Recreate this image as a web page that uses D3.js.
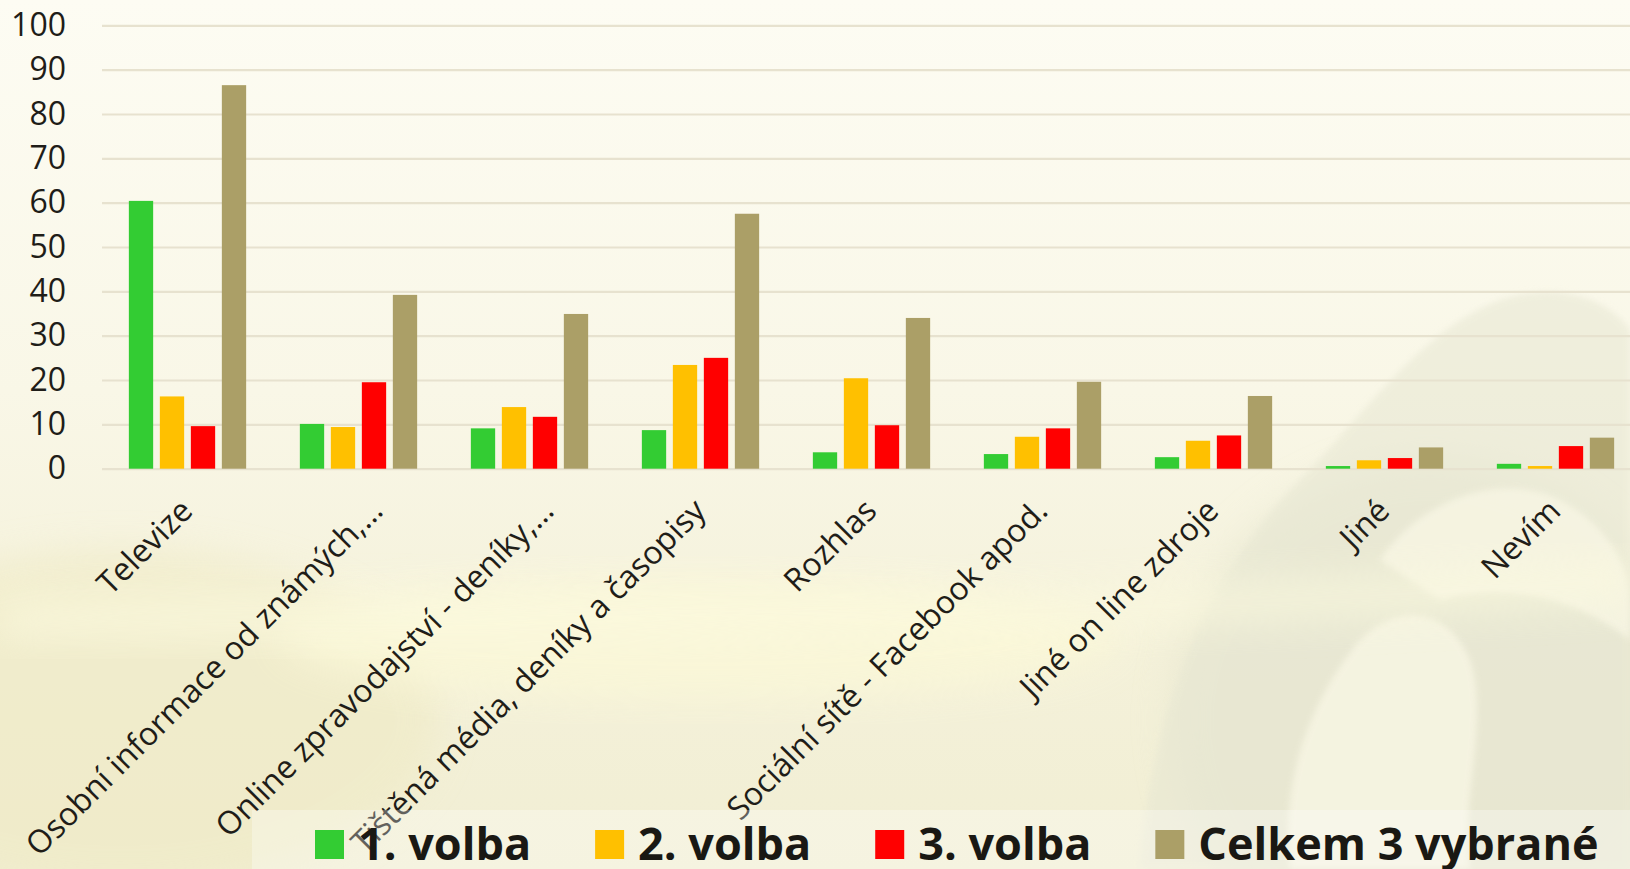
<!DOCTYPE html>
<html>
<head>
<meta charset="utf-8">
<script src="https://cdn.jsdelivr.net/npm/d3@7"></script>
<style>
  html, body { margin: 0; padding: 0; overflow: hidden; background: #fbf9ec; }
  svg { display: block; font-family: "Open Sans", "Noto Sans", sans-serif; }
</style>
</head>
<body>
<svg id="chart" width="1630" height="869"></svg>
<script>
// data
const categories = [
  "Televize",
  "Osobní informace od známých,…",
  "Online zpravodajství - deníky,…",
  "Tištěná média, deníky a časopisy",
  "Rozhlas",
  "Sociální sítě - Facebook apod.",
  "Jiné on line zdroje",
  "Jiné",
  "Nevím"
];
const seriesNames = ["1. volba", "2. volba", "3. volba", "Celkem 3 vybrané"];
const volba1 = [60.4, 10.1, 9.1, 8.7, 3.7, 3.3, 2.6, 0.6, 1.1];
const volba2 = [16.3, 9.4, 13.9, 23.4, 20.4, 7.2, 6.3, 1.9, 0.6];
const volba3 = [9.6, 19.5, 11.7, 25.0, 9.8, 9.1, 7.5, 2.4, 5.1];
const celkem = [86.5, 39.2, 34.9, 57.5, 34.0, 19.6, 16.4, 4.8, 7.0];
const yTicks = [0, 10, 20, 30, 40, 50, 60, 70, 80, 90, 100];

const colors = ["#33cc33", "#ffc000", "#ff0000", "#ab9f67"];
const W = 1630, H = 869;
const left = 102, bandW = 171;
const y0 = 468.7, y100 = 25.3;

const svg = d3.select("#chart");
const defs = svg.append("defs");

// ---- background (cream paper with faint emblem) ----
const bg = defs.append("linearGradient").attr("id", "bg").attr("x1", 0).attr("y1", 0).attr("x2", 0).attr("y2", 1);
bg.append("stop").attr("offset", "0%").attr("stop-color", "#fdfcf3");
bg.append("stop").attr("offset", "45%").attr("stop-color", "#f9f7e7");
bg.append("stop").attr("offset", "75%").attr("stop-color", "#f4f1da");
bg.append("stop").attr("offset", "100%").attr("stop-color", "#f1eed3");
defs.append("filter").attr("id", "blur").attr("x", "-20%").attr("y", "-20%").attr("width", "140%").attr("height", "140%")
  .append("feGaussianBlur").attr("stdDeviation", 18);
defs.append("filter").attr("id", "soft")
  .append("feGaussianBlur").attr("stdDeviation", 3);

svg.append("rect").attr("width", W).attr("height", H).attr("fill", "url(#bg)");
const deco = svg.append("g");
deco.append("ellipse").attr("cx", 120).attr("cy", 720).attr("rx", 320).attr("ry", 170)
  .attr("fill", "#efeac4").attr("opacity", 0.6).attr("filter", "url(#blur)");
deco.append("ellipse").attr("cx", 700).attr("cy", 640).attr("rx", 420).attr("ry", 60)
  .attr("fill", "#fbf8d8").attr("opacity", 0.8).attr("filter", "url(#blur)");
deco.append("ellipse").attr("cx", 1430).attr("cy", 720).attr("rx", 260).attr("ry", 260)
  .attr("fill", "#e3e3cd").attr("opacity", 0.5).attr("filter", "url(#blur)");
deco.append("path")
  .attr("d", "M1140,869 C1150,700 1220,560 1300,480 C1360,420 1420,330 1500,300 C1560,280 1610,300 1630,330 L1630,869 Z")
  .attr("fill", "#e7e7d3").attr("opacity", 0.55).attr("filter", "url(#soft)");
deco.append("path")
  .attr("d", "M1290,869 C1280,780 1310,700 1360,640 C1400,600 1450,610 1470,660 C1490,720 1460,800 1470,869 Z")
  .attr("fill", "#f8f6e4").attr("opacity", 0.8).attr("filter", "url(#soft)");
deco.append("path")
  .attr("d", "M1380,560 C1420,500 1500,470 1560,500 C1600,520 1630,560 1630,600 L1630,640 C1580,600 1510,580 1440,600 Z")
  .attr("fill", "#f8f6e4").attr("opacity", 0.8).attr("filter", "url(#soft)");
deco.append("path")
  .attr("d", "M0,600 C300,580 700,610 1100,590 C1300,580 1500,570 1630,560 L1630,600 C1400,615 1100,630 700,640 C400,645 200,640 0,640 Z")
  .attr("fill", "#fcfadf").attr("opacity", 0.6).attr("filter", "url(#blur)");

// ---- scales ----
const x = d3.scaleBand().domain(categories).range([left, left + categories.length * bandW]);
const xs = d3.scaleBand().domain(seriesNames).range([26.85, bandW - 26.85]).paddingInner(0.216);
const y = d3.scaleLinear().domain([0, 100]).range([y0, y100]);

// gridlines
svg.append("g")
  .attr("transform", `translate(${left},0)`)
  .call(d3.axisLeft(y).tickValues(yTicks).tickSize(-(W - left)).tickFormat(""))
  .call(g => g.select(".domain").remove())
  .call(g => g.selectAll("line").attr("stroke", "#e7e2cf").attr("stroke-width", 2.2));

// y axis labels
svg.append("g")
  .attr("transform", `translate(${left},0)`)
  .call(d3.axisLeft(y).tickValues(yTicks).tickSize(0).tickPadding(36))
  .call(g => g.select(".domain").remove())
  .call(g => g.selectAll("text")
    .attr("font-family", "'Open Sans', sans-serif")
    .attr("font-size", 32)
    .attr("fill", "#1f1d18"));

// bars
const series = [volba1, volba2, volba3, celkem];
const rows = categories.map((c, i) => ({ cat: c, vals: series.map((s, k) => ({ key: seriesNames[k], v: s[i], k })) }));

svg.append("g").selectAll("g")
  .data(rows)
  .join("g")
    .attr("transform", d => `translate(${x(d.cat)},0)`)
  .selectAll("rect")
  .data(d => d.vals)
  .join("rect")
    .attr("x", d => xs(d.key))
    .attr("y", d => y(d.v))
    .attr("width", xs.bandwidth())
    .attr("height", d => y0 - y(d.v))
    .attr("fill", d => colors[d.k]);

// x axis labels, rotated
svg.append("g")
  .attr("transform", `translate(0,${y0})`)
  .call(d3.axisBottom(x).tickSize(0).tickPadding(0))
  .call(g => g.select(".domain").remove())
  .call(g => g.selectAll("text")
    .attr("font-family", "'Open Sans', sans-serif")
    .attr("font-size", 32)
    .attr("fill", "#1f1d18")
    .attr("text-anchor", "end")
    .attr("y", 0).attr("dy", 0)
    .attr("transform", d => `translate(${d.endsWith("…") ? 26 : 7},44) rotate(-45)`));

// legend
svg.append("rect").attr("x", 252).attr("y", 810).attr("width", W - 252).attr("height", H - 810)
  .attr("fill", "#ffffff").attr("opacity", 0.3);
const legend = svg.append("g");
let lx = 315;
seriesNames.forEach((name, k) => {
  legend.append("rect").attr("x", lx).attr("y", 830).attr("width", 29).attr("height", 29).attr("fill", colors[k]);
  const t = legend.append("text")
    .attr("x", lx + 43).attr("y", 860)
    .attr("font-family", "'Open Sans', sans-serif")
    .attr("font-weight", 700)
    .attr("font-size", 45)
    .attr("fill", "#1a1813")
    .text(name);
  lx += 43 + t.node().getComputedTextLength() + 64;
});
</script>
</body>
</html>
